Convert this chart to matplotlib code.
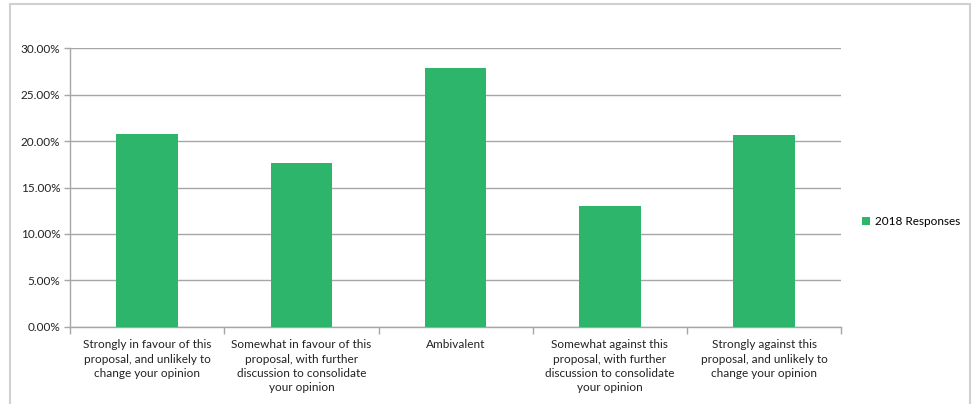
import matplotlib.pyplot as plt
from matplotlib.patches import Rectangle
from matplotlib.ticker import PercentFormatter

plt.rcParams['font.family'] = ['Lato', 'DejaVu Sans']

categories = [
    "Strongly in favour of this\nproposal, and unlikely to\nchange your opinion",
    "Somewhat in favour of this\nproposal, with further\ndiscussion to consolidate\nyour opinion",
    "Ambivalent",
    "Somewhat against this\nproposal, with further\ndiscussion to consolidate\nyour opinion",
    "Strongly against this\nproposal, and unlikely to\nchange your opinion",
]
responses_2018 = [20.73, 17.67, 27.88, 13.0, 20.66]
yticks = [0, 5, 10, 15, 20, 25, 30]

GREEN = "#2db56b"
GRID = "#a6a6a6"

fig = plt.figure(figsize=(9.76, 4.04), dpi=100)
ax = fig.add_axes([0.0717, 0.1913, 0.7903, 0.6891])

x = range(len(categories))
ax.bar(x, responses_2018, width=0.4, color=GREEN, zorder=3, label="2018 Responses")

ax.set_xlim(-0.5, len(categories) - 0.5)
ax.set_ylim(0, 30)
ax.set_yticks(yticks)
ax.yaxis.set_major_formatter(PercentFormatter(decimals=2))
ax.grid(axis="y", color=GRID, linewidth=1, zorder=0)

# category boundary ticks on x axis
ax.set_xticks([i - 0.5 for i in range(len(categories) + 1)])
ax.set_xticklabels([])
ax.set_xticks(list(x), minor=True)
ax.set_xticklabels(categories, minor=True, fontsize=8.5, linespacing=1.38, color="#222222")
ax.tick_params(axis="x", which="minor", length=0, pad=9)
ax.tick_params(axis="x", which="major", length=5, color=GRID, width=1)
ax.tick_params(axis="y", length=4, color=GRID, width=1, labelsize=8.5, labelcolor="#222222", pad=3)

for s in ["top", "right"]:
    ax.spines[s].set_visible(False)
for s in ["left", "bottom"]:
    ax.spines[s].set_color(GRID)
    ax.spines[s].set_linewidth(1)

leg = fig.legend(loc="center left", bbox_to_anchor=(0.872, 0.452), frameon=False,
                 fontsize=8.5, handlelength=0.7, handleheight=0.7, handletextpad=0.4)

# outer chart border
fig.patches.append(Rectangle((10 / 976, -0.05), 960 / 976, 1.0 - 4 / 404 + 0.05,
                             transform=fig.transFigure, fill=False,
                             edgecolor="#d0d0d0", linewidth=1.5))

fig.savefig("out.png", dpi=100)
